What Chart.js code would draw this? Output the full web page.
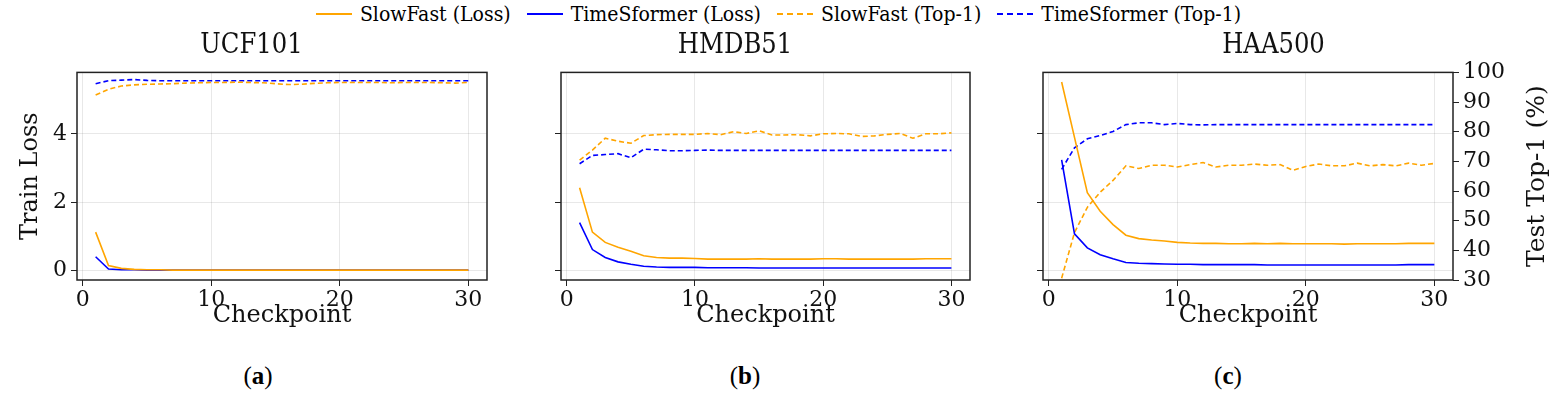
<!DOCTYPE html>
<html>
<head>
<meta charset="utf-8">
<script src="https://cdn.jsdelivr.net/npm/chart.js@4"></script>
<style>
  body { margin: 0; background: #fff; width: 1557px; height: 408px; position: relative; overflow: hidden; font-family: "DejaVu Serif", serif; }
  canvas { position: absolute; }
  #legend { position: absolute; top: 2px; left: 0; width: 1557px; display: flex; justify-content: center; gap: 16px; font-size: 21px; font-stretch: condensed; font-family: "DejaVu Serif Condensed", "DejaVu Serif", serif; }
  #legend span.item { display: flex; align-items: center; gap: 8px; }
  #legend span.sw { display: inline-block; width: 36px; }
  .cap { position: absolute; top: 362px; font-size: 25px; font-family: "Liberation Serif", serif; transform: translateX(-50%); }
</style>
</head>
<body>
<div id="legend">
  <span class="item"><span class="sw" style="border-top:2px solid orange"></span>SlowFast (Loss)</span>
  <span class="item"><span class="sw" style="border-top:2px solid blue"></span>TimeSformer (Loss)</span>
  <span class="item"><span class="sw" style="border-top:2px dashed orange"></span>SlowFast (Top-1)</span>
  <span class="item"><span class="sw" style="border-top:2px dashed blue"></span>TimeSformer (Top-1)</span>
</div>
<canvas id="c0" style="left:0;top:20px" width="500" height="310"></canvas>
<canvas id="c1" style="left:500px;top:20px" width="490" height="310"></canvas>
<canvas id="c2" style="left:990px;top:20px" width="567" height="310"></canvas>
<div class="cap" style="left:258px">(<b>a</b>)</div>
<div class="cap" style="left:745px">(<b>b</b>)</div>
<div class="cap" style="left:1228px">(<b>c</b>)</div>
<script>
const checkpoints = [1,2,3,4,5,6,7,8,9,10,11,12,13,14,15,16,17,18,19,20,21,22,23,24,25,26,27,28,29,30];
const datasetNames = ['UCF101', 'HMDB51', 'HAA500'];

const ucfSlowFastLoss = [1.13,0.15,0.07,0.04,0.03,0.03,0.02,0.02,0.02,0.02,0.02,0.02,0.02,0.02,0.02,0.02,0.02,0.02,0.02,0.02,0.02,0.02,0.02,0.02,0.02,0.02,0.02,0.02,0.02,0.02];
const ucfTimeSformerLoss = [0.41,0.05,0.03,0.03,0.02,0.02,0.02,0.02,0.02,0.02,0.02,0.02,0.02,0.02,0.02,0.02,0.02,0.02,0.02,0.02,0.02,0.02,0.02,0.02,0.02,0.02,0.02,0.02,0.02,0.02];
const ucfSlowFastTop1 = [92.4,94.3,95.4,95.8,96.0,96.1,96.2,96.4,96.5,96.6,96.6,96.7,96.6,96.5,96.2,95.9,96.0,96.3,96.5,96.6,96.6,96.6,96.6,96.5,96.6,96.6,96.6,96.5,96.4,96.6];
const ucfTimeSformerTop1 = [96.2,97.2,97.4,97.6,97.3,97.2,97.2,97.2,97.2,97.2,97.2,97.2,97.2,97.2,97.2,97.2,97.2,97.2,97.2,97.2,97.2,97.2,97.2,97.2,97.2,97.2,97.2,97.2,97.2,97.2];

const hmdbSlowFastLoss = [2.43,1.13,0.83,0.69,0.57,0.44,0.39,0.37,0.37,0.36,0.34,0.34,0.34,0.34,0.35,0.34,0.34,0.34,0.34,0.35,0.35,0.34,0.34,0.34,0.34,0.34,0.34,0.35,0.35,0.35];
const hmdbTimeSformerLoss = [1.41,0.62,0.39,0.26,0.19,0.13,0.11,0.10,0.10,0.10,0.09,0.09,0.09,0.09,0.08,0.08,0.08,0.08,0.08,0.08,0.08,0.08,0.08,0.08,0.08,0.08,0.08,0.08,0.08,0.08];
const hmdbSlowFastTop1 = [70.4,73.8,77.8,76.8,76.1,78.7,79.0,79.1,79.1,79.1,79.4,79.0,80.0,79.4,80.3,78.9,78.9,79.0,78.6,79.3,79.4,79.3,78.4,78.6,79.1,79.4,77.8,79.3,79.3,79.6];
const hmdbTimeSformerTop1 = [69.2,72.0,72.3,72.6,71.2,74.1,73.9,73.6,73.6,73.7,73.8,73.7,73.7,73.7,73.7,73.7,73.7,73.7,73.7,73.7,73.7,73.7,73.7,73.7,73.7,73.7,73.7,73.7,73.7,73.7];

const haaSlowFastLoss = [5.52,3.90,2.28,1.74,1.35,1.04,0.94,0.90,0.87,0.83,0.81,0.80,0.80,0.79,0.79,0.80,0.79,0.80,0.79,0.79,0.79,0.79,0.78,0.79,0.79,0.79,0.79,0.80,0.80,0.80];
const haaTimeSformerLoss = [3.24,1.08,0.67,0.47,0.35,0.24,0.22,0.21,0.20,0.19,0.19,0.18,0.18,0.18,0.18,0.18,0.17,0.17,0.17,0.17,0.17,0.17,0.17,0.17,0.17,0.17,0.17,0.18,0.18,0.18];
const haaSlowFastTop1 = [30.6,46.0,54.5,59.6,63.6,68.5,67.6,68.7,68.7,68.1,68.9,69.6,68.1,68.7,68.7,69.1,68.7,68.9,67.0,68.3,69.1,68.5,68.5,69.4,68.5,68.9,68.5,69.4,68.7,69.3];
const haaTimeSformerTop1 = [67.3,74.6,77.6,78.7,80.1,82.4,83.0,83.0,82.4,82.8,82.4,82.3,82.4,82.4,82.4,82.4,82.4,82.4,82.4,82.4,82.4,82.4,82.4,82.4,82.4,82.4,82.4,82.4,82.4,82.4];

const panels = [
  [ucfSlowFastLoss, ucfTimeSformerLoss, ucfSlowFastTop1, ucfTimeSformerTop1],
  [hmdbSlowFastLoss, hmdbTimeSformerLoss, hmdbSlowFastTop1, hmdbTimeSformerTop1],
  [haaSlowFastLoss, haaTimeSformerLoss, haaSlowFastTop1, haaTimeSformerTop1]
];

const fontFam = '"DejaVu Serif", serif';
const condFam = '"DejaVu Serif Condensed", "DejaVu Serif", serif';

const frameBox = {
  id: 'frameBox',
  afterDraw(chart) {
    const a = chart.chartArea, c = chart.ctx;
    c.save();
    c.strokeStyle = '#222';
    c.lineWidth = 1.5;
    c.strokeRect(a.left, a.top, a.right - a.left, a.bottom - a.top);
    c.restore();
  }
};

// right-hand axis title, reading bottom to top like matplotlib's twinx label
const rightTitle = {
  id: 'rightTitle',
  afterDraw(chart) {
    if (!chart.options.plugins.rightTitle) return;
    const a = chart.chartArea, c = chart.ctx;
    c.save();
    c.translate(chart.width - 20, (a.top + a.bottom) / 2);
    c.rotate(-Math.PI / 2);
    c.textAlign = 'center';
    c.textBaseline = 'middle';
    c.fillStyle = '#111';
    c.font = '25px ' + fontFam;
    c.fillText(chart.options.plugins.rightTitle, 0, 0);
    c.restore();
  }
};

function pts(arr) { return arr.map((v, i) => ({ x: checkpoints[i], y: v })); }

function makeChart(idx, padLeft, leftW, rightW, padRight) {
  const d = panels[idx];
  const line = (data, color, dashed, axis) => ({
    data: pts(data), borderColor: color, borderWidth: 1.6, borderDash: dashed ? [5, 3] : [],
    pointRadius: 0, yAxisID: axis, tension: 0
  });
  new Chart(document.getElementById('c' + idx), {
    type: 'line',
    data: {
      datasets: [
        line(d[0], 'orange', false, 'y'),
        line(d[1], 'blue', false, 'y'),
        line(d[2], 'orange', true, 'y1'),
        line(d[3], 'blue', true, 'y1')
      ]
    },
    options: {
      responsive: false,
      animation: false,
      layout: { padding: { right: padRight, left: padLeft, top: 0, bottom: 0 } },
      plugins: {
        legend: { display: false },
        tooltip: { enabled: false },
        rightTitle: idx === 2 ? 'Test Top-1 (%)' : '',
        title: { display: true, text: datasetNames[idx], color: '#111', font: { family: condFam, size: 27, weight: 'normal' }, padding: { top: 10, bottom: 10 } }
      },
      scales: {
        x: {
          type: 'linear', min: -0.45, max: 31.45,
          afterFit: s => { s.height = 50; },
          ticks: { color: '#111', font: { family: fontFam, size: 22 }, padding: 1 },
          afterBuildTicks: s => { s.ticks = [0, 10, 20, 30].map(v => ({ value: v })); },
          grid: { color: 'rgba(0,0,0,0.09)', tickColor: '#222', tickLength: 6 },
          border: { display: false },
          title: { display: true, text: 'Checkpoint', color: '#111', font: { family: fontFam, size: 24 }, padding: { top: -3, bottom: 0 } }
        },
        y: {
          min: -0.27, max: 5.8,
          afterFit: s => { s.width = leftW; },
          afterBuildTicks: s => { s.ticks = [0, 2, 4].map(v => ({ value: v })); },
          ticks: { display: idx === 0, color: '#111', font: { family: fontFam, size: 22 }, padding: 4 },
          grid: { color: 'rgba(0,0,0,0.09)', tickColor: '#222', tickLength: 6 },
          border: { display: false },
          title: { display: idx === 0, text: 'Train Loss', color: '#111', font: { family: fontFam, size: 24 }, padding: 0 }
        },
        y1: {
          display: idx === 2,
          position: 'right', min: 30, max: 100,
          afterFit: s => { s.width = rightW; },
          afterBuildTicks: s => { s.ticks = [30, 40, 50, 60, 70, 80, 90, 100].map(v => ({ value: v })); },
          ticks: { color: '#111', font: { family: fontFam, size: 22 }, padding: 4 },
          grid: { drawOnChartArea: false, tickColor: '#222', tickLength: 6 },
          border: { display: false },
          title: { display: false }
        }
      }
    },
    plugins: [frameBox, rightTitle]
  });
}

makeChart(0, 16, 61, 0, 13);
makeChart(1, 0, 61, 0, 20);
makeChart(2, 0, 53, 104, 0);
</script>
</body>
</html>
